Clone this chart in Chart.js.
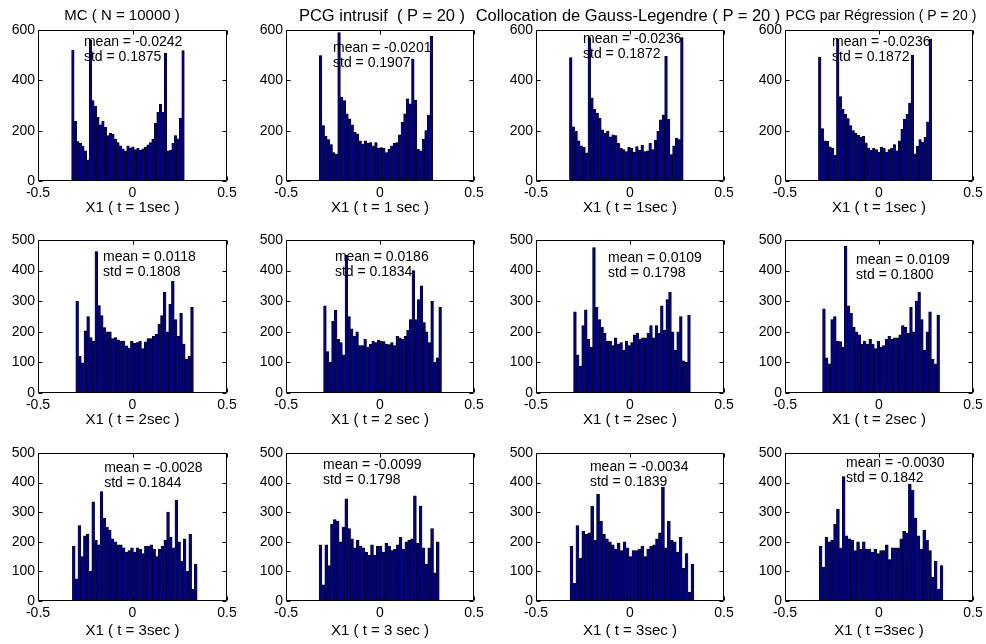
<!DOCTYPE html>
<html>
<head>
<meta charset="utf-8">
<script src="https://cdn.jsdelivr.net/npm/chart.js@4.4.1/dist/chart.umd.min.js"></script>
<style>
  html, body { margin: 0; padding: 0; background: #fff; }
  body { width: 986px; height: 644px; position: relative; overflow: hidden; }
  canvas { position: absolute; }
  .ttl {
    position: absolute; top: 6px; white-space: pre; transform: translateX(-50%);
    font-family: "Liberation Sans", Arial, Helvetica, sans-serif; color: #000; line-height: 18px;
  }
</style>
</head>
<body>
<script>
// panel titles (top row only) and x labels
const titles = ['MC ( N = 10000 )', 'PCG intrusif  ( P = 20 )', 'Collocation de Gauss-Legendre ( P = 20 )', 'PCG par Régression ( P = 20 )'];
const xLabels = [
    ['X1 ( t = 1sec )', 'X1 ( t = 1 sec )', 'X1 ( t = 1sec )', 'X1 ( t = 1sec )'],
    ['X1 ( t = 2sec )', 'X1 ( t = 2 sec )', 'X1 ( t = 2sec )', 'X1 ( t = 2sec )'],
    ['X1 ( t = 3sec )', 'X1 ( t = 3 sec )', 'X1 ( t = 3sec )', 'X1 ( t =3sec )']
];
const xTicks = [-0.5, 0, 0.5];
const yMaxRow = [600, 500, 500];
const yStepRow = [200, 100, 100];

const means = [
    ['-0.0242', '-0.0201', '-0.0236', '-0.0236'],
    ['0.0118', '0.0186', '0.0109', '0.0109'],
    ['-0.0028', '-0.0099', '-0.0034', '-0.0030']
];
const stds = [
    ['0.1875', '0.1907', '0.1872', '0.1872'],
    ['0.1808', '0.1834', '0.1798', '0.1800'],
    ['0.1844', '0.1798', '0.1839', '0.1842']
];

// histogram range (first bin left edge, last bin right edge)
const binLo = [
    [-0.322, -0.323, -0.322, -0.322],
    [-0.300, -0.300, -0.300, -0.300],
    [-0.318, -0.324, -0.319, -0.318]
];
const binHi = [
    [0.274, 0.280, 0.283, 0.280],
    [0.322, 0.327, 0.321, 0.322],
    [0.342, 0.315, 0.340, 0.340]
];

// counts per bin
const mc1 = [520, 237, 157, 150, 138, 120, 84, 560, 320, 298, 253, 223, 237, 213, 180, 190, 185, 167, 153, 140, 128, 120, 140, 132, 136, 125, 131, 123, 128, 135, 144, 153, 167, 230, 273, 305, 273, 508, 120, 122, 150, 180, 168, 250, 518];
const pcg1 = [498, 220, 178, 165, 145, 113, 107, 590, 333, 320, 267, 247, 223, 193, 187, 160, 147, 160, 150, 153, 140, 153, 130, 133, 130, 113, 127, 140, 150, 153, 183, 233, 267, 327, 307, 485, 322, 127, 120, 167, 200, 262, 575];
const gl1 = [490, 215, 197, 160, 140, 135, 112, 570, 330, 285, 270, 250, 203, 190, 197, 176, 183, 180, 150, 130, 125, 117, 134, 130, 115, 137, 123, 143, 117, 120, 150, 125, 163, 197, 243, 263, 495, 245, 105, 140, 170, 165, 570];
const reg1 = [492, 208, 160, 158, 136, 130, 102, 565, 335, 285, 265, 248, 220, 200, 190, 182, 175, 178, 152, 130, 122, 130, 125, 115, 135, 130, 115, 125, 130, 145, 120, 160, 205, 245, 265, 310, 500, 108, 138, 165, 155, 175, 235, 565];

const mc2 = [300, 121, 99, 203, 250, 181, 170, 462, 286, 253, 214, 200, 200, 178, 181, 174, 170, 170, 154, 148, 170, 162, 165, 170, 145, 167, 178, 178, 185, 192, 225, 253, 330, 200, 290, 365, 240, 185, 260, 160, 110, 120, 280];
const pcg2 = [285, 135, 100, 235, 270, 175, 165, 125, 450, 250, 210, 185, 200, 155, 155, 175, 150, 160, 170, 165, 172, 170, 168, 160, 158, 165, 155, 185, 180, 175, 185, 205, 240, 400, 240, 305, 350, 230, 200, 165, 300, 100, 115, 280];
const gl2 = [265, 125, 88, 220, 272, 175, 150, 475, 280, 240, 215, 195, 170, 170, 155, 180, 160, 165, 140, 170, 155, 165, 190, 195, 175, 180, 180, 195, 220, 180, 220, 195, 285, 205, 305, 330, 200, 140, 200, 250, 105, 100, 255];
const reg2 = [275, 115, 95, 240, 250, 170, 168, 150, 480, 285, 260, 215, 200, 190, 160, 170, 160, 175, 160, 145, 170, 150, 155, 175, 185, 175, 180, 180, 190, 220, 215, 195, 280, 200, 300, 330, 240, 140, 200, 265, 110, 95, 255];

const mc3 = [185, 75, 255, 150, 220, 225, 100, 335, 205, 190, 370, 280, 250, 240, 210, 200, 190, 190, 180, 165, 170, 180, 165, 180, 175, 160, 185, 185, 190, 175, 150, 175, 185, 205, 300, 215, 180, 340, 200, 135, 210, 100, 225, 40, 125];
const pcg3 = [190, 55, 190, 120, 260, 275, 270, 200, 250, 345, 245, 210, 180, 205, 185, 180, 165, 155, 190, 155, 185, 185, 165, 195, 185, 170, 175, 190, 215, 175, 200, 205, 210, 355, 195, 320, 180, 125, 180, 245, 95, 200];
const gl3 = [185, 60, 255, 145, 235, 225, 230, 320, 205, 360, 270, 225, 210, 200, 190, 175, 195, 170, 200, 180, 150, 170, 170, 175, 185, 150, 175, 185, 190, 210, 230, 385, 180, 270, 205, 200, 165, 215, 110, 160, 30, 125];
const reg3 = [185, 115, 215, 200, 205, 260, 310, 180, 420, 220, 210, 205, 170, 200, 175, 200, 175, 175, 165, 175, 160, 170, 170, 190, 140, 180, 180, 180, 210, 235, 230, 395, 375, 280, 220, 175, 240, 205, 170, 80, 135, 40, 120];

const counts = [
    [mc1, pcg1, gl1, reg1],
    [mc2, pcg2, gl2, reg2],
    [mc3, pcg3, gl3, reg3]
];

// where the "mean / std" text sits, in data units
const textX = [
    [-0.257, -0.25, -0.25, -0.25],
    [-0.156, -0.24, -0.117, -0.122],
    [-0.15, -0.303, -0.213, -0.175]
];
const textY = [
    [553, 529, 564, 553],
    [444, 444, 441, 435],
    [449, 459, 453, 466]
];

// layout of the axes boxes (px)
const colLeft = [38, 286, 536, 785];
const colWidth = [189, 188, 188, 188];
const rowTop = [30, 240, 453];
const rowHeight = [151, 153, 148];
// title placement (the panels were pasted together, so not quite uniform)
const titleCenter = [122, 382, 628, 881];
const titleSize = [15, 16.5, 16.5, 14];

const FONT = '"Liberation Sans", Arial, Helvetica, sans-serif';

// axes box, inward ticks and the mean/std note
const decorPlugin = {
    id: 'decor',
    afterDraw(chart, args, opts) {
        const { ctx, chartArea: a } = chart;
        const x = chart.scales.x, y = chart.scales.y;
        ctx.save();
        ctx.strokeStyle = '#000';
        ctx.lineWidth = 1;
        const l = Math.round(a.left) + 0.5, r = Math.round(a.right) - 0.5;
        const t = Math.round(a.top) + 0.5, b = Math.round(a.bottom) - 0.5;
        ctx.beginPath();
        ctx.rect(l, t, r - l, b - t);
        xTicks.forEach(v => {
            const px = Math.round(x.getPixelForValue(v)) + 0.5;
            ctx.moveTo(px, b); ctx.lineTo(px, b - 4);
            ctx.moveTo(px, t); ctx.lineTo(px, t + 4);
        });
        for (let v = 0; v <= opts.yMax; v += opts.yStep) {
            const py = Math.round(y.getPixelForValue(v)) + 0.5;
            ctx.moveTo(l, py); ctx.lineTo(l + 4, py);
            ctx.moveTo(r, py); ctx.lineTo(r - 4, py);
        }
        ctx.stroke();

        ctx.fillStyle = '#000';
        ctx.font = '14px ' + FONT;
        ctx.textBaseline = 'middle';
        ctx.textAlign = 'left';
        const tx = x.getPixelForValue(opts.x);
        const ty = y.getPixelForValue(opts.y);
        ctx.fillText('mean = ' + opts.mean, tx, ty);
        ctx.fillText('std = ' + opts.std, tx, ty + 15);
        ctx.restore();
    }
};

function makePanel(row, col) {
    const L = colLeft[col], W = colWidth[col];
    const T = rowTop[row], H = rowHeight[row];
    const padTop = row === 0 ? T : 12;
    const canvas = document.createElement('canvas');
    const cw = W + 52, ch = padTop + H + 40;
    canvas.width = cw;
    canvas.height = ch;
    canvas.style.left = (L - 40) + 'px';
    canvas.style.top = (T - padTop) + 'px';
    canvas.style.width = cw + 'px';
    canvas.style.height = ch + 'px';
    document.body.appendChild(canvas);

    if (row === 0) {
        const div = document.createElement('div');
        div.className = 'ttl';
        div.textContent = titles[col];
        div.style.left = titleCenter[col] + 'px';
        div.style.fontSize = titleSize[col] + 'px';
        document.body.appendChild(div);
    }

    const data = counts[row][col];
    const lo = binLo[row][col], hi = binHi[row][col];
    const w = (hi - lo) / data.length;
    const points = data.map((c, i) => ({ x: lo + (i + 0.5) * w, y: c }));

    new Chart(canvas.getContext('2d'), {
        type: 'bar',
        data: {
            datasets: [{
                data: points,
                backgroundColor: '#00007c',
                borderColor: '#000000',
                borderWidth: 0.5,
                barPercentage: 1,
                categoryPercentage: 1
            }]
        },
        options: {
            responsive: false,
            animation: false,
            devicePixelRatio: 1,
            layout: { padding: { top: padTop, right: 12, left: 0, bottom: 0 } },
            plugins: {
                legend: { display: false },
                tooltip: { enabled: false },
                title: { display: false },
                decor: {
                    yMax: yMaxRow[row], yStep: yStepRow[row],
                    x: textX[row][col], y: textY[row][col],
                    mean: means[row][col], std: stds[row][col]
                }
            },
            scales: {
                x: {
                    type: 'linear',
                    min: xTicks[0],
                    max: xTicks[xTicks.length - 1],
                    offset: false,
                    grid: { display: false, drawTicks: false, tickLength: 0, offset: false },
                    border: { display: false },
                    afterBuildTicks(scale) { scale.ticks = xTicks.map(v => ({ value: v })); },
                    afterFit(scale) { scale.height = 40; scale.paddingLeft = 0; scale.paddingRight = 0; },
                    ticks: { color: '#000', padding: 4, maxRotation: 0, font: { family: FONT, size: 14 } },
                    title: {
                        display: true,
                        text: xLabels[row][col],
                        color: '#000',
                        font: { family: FONT, size: 15 },
                        padding: { top: 0, bottom: row === 2 ? 1 : 4 }
                    }
                },
                y: {
                    min: 0,
                    max: yMaxRow[row],
                    grid: { display: false, drawTicks: false, tickLength: 0 },
                    border: { display: false },
                    afterFit(scale) { scale.width = 40; scale.paddingTop = 0; scale.paddingBottom = 0; },
                    ticks: { color: '#000', padding: 3, stepSize: yStepRow[row], font: { family: FONT, size: 14 } }
                }
            }
        },
        plugins: [decorPlugin]
    });
}

for (let r = 0; r < 3; r++) {
    for (let c = 0; c < 4; c++) makePanel(r, c);
}
</script>
</body>
</html>
